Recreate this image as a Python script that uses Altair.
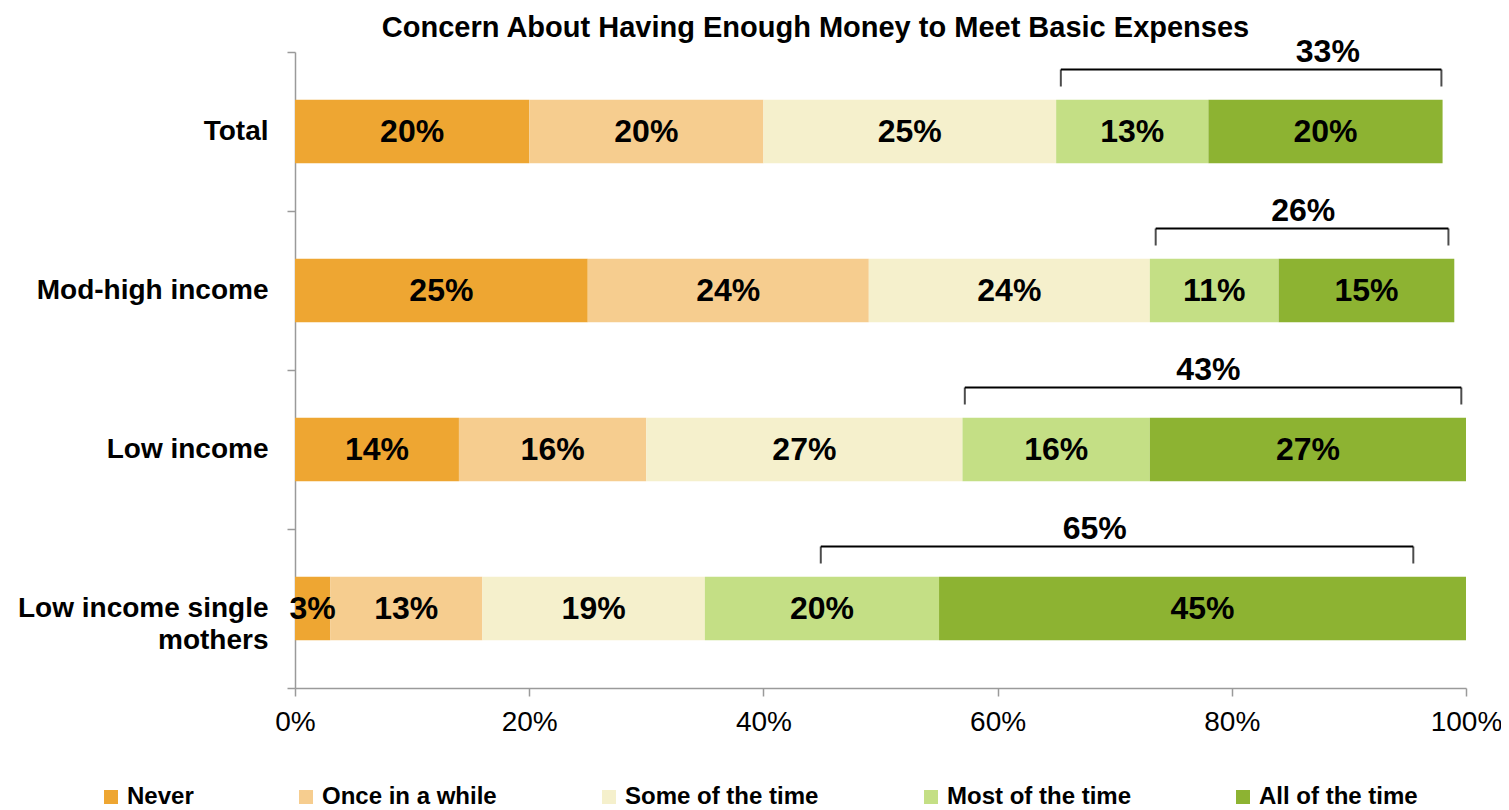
import altair as alt
import pandas as pd

categories = ["Total", "Mod-high income", "Low income", "Low income single mothers"]
responses = ["Never", "Once in a while", "Some of the time", "Most of the time", "All of the time"]
never = [20, 25, 14, 3]
once_in_a_while = [20, 24, 16, 13]
some_of_the_time = [25, 24, 27, 19]
most_of_the_time = [13, 11, 16, 20]
all_of_the_time = [20, 15, 27, 45]
colors = ["#EEA632", "#F6CD8F", "#F5F0CC", "#C4DF85", "#8DB332"]

bracket_start = [65.4, 73.5, 57.2, 44.9]
bracket_end = [97.9, 98.5, 99.6, 95.5]
bracket_text = ["33%", "26%", "43%", "65%"]
bracket_text_x = [88.2, 86.1, 78.0, 68.3]
x_ticks = [0, 20, 40, 60, 80, 100]

FONT = "Liberation Sans"

series = [never, once_in_a_while, some_of_the_time, most_of_the_time, all_of_the_time]
rows = []
for i, cat in enumerate(categories):
    cum = 0
    for j, resp in enumerate(responses):
        v = series[j][i]
        rows.append({"category": cat, "response": resp, "value": v,
                     "start": cum, "end": cum + v, "mid": cum + v / 2,
                     "label": f"{v}%"})
        cum += v
df = pd.DataFrame(rows)

br = pd.DataFrame({"category": categories, "start": bracket_start, "end": bracket_end,
                   "text": bracket_text, "tx": bracket_text_x})

xscale = alt.Scale(domain=[0, 100], nice=False, zero=True)
yenc = alt.Y("category:N", sort=categories,
             scale=alt.Scale(paddingInner=0, paddingOuter=0),
             axis=alt.Axis(title=None, tickBand="extent", tickSize=8, labelPadding=19,
                           labelFontSize=28, labelFontWeight="bold", labelColor="black",
                           labelFont=FONT, labelLineHeight=32, labelLimit=400,
                           labelExpr="datum.value == 'Low income single mothers' ? ['Low income single', 'mothers'] : datum.value"))

bars = alt.Chart(df).mark_bar(height={"band": 0.4}).encode(
    x=alt.X("start:Q", scale=xscale,
            axis=alt.Axis(title=None, values=x_ticks, labelExpr="datum.value + '%'",
                          tickSize=8, labelPadding=12, labelFontSize=28, labelColor="black",
                          labelFont=FONT, grid=False, labelFlush=False)),
    x2="end:Q",
    y=yenc,
    color=alt.Color("response:N", sort=responses,
                    scale=alt.Scale(domain=responses, range=colors),
                    legend=alt.Legend(title=None, orient="none", direction="horizontal",
                                      columns=5, legendX=-196, legendY=733, padding=0,
                                      symbolType="square", symbolSize=196,
                                      symbolStrokeWidth=0, symbolOpacity=1,
                                      labelFontSize=24, labelFontWeight="bold",
                                      labelColor="black", labelFont=FONT,
                                      labelOffset=4, columnPadding=100, labelLimit=400)),
)

labels = alt.Chart(df).mark_text(fontSize=32, fontWeight="bold", font=FONT, color="black").encode(
    x=alt.X("mid:Q", scale=xscale),
    y=alt.Y("category:N", sort=categories),
    text="label:N",
)

hline = alt.Chart(br).mark_rule(color="black", strokeWidth=2, yOffset=-62).encode(
    x=alt.X("start:Q", scale=xscale), x2="end:Q",
    y=alt.Y("category:N", sort=categories),
)
lend = alt.Chart(br).mark_tick(color="black", thickness=2, size=17, yOffset=-53.5).encode(
    x=alt.X("start:Q", scale=xscale), y=alt.Y("category:N", sort=categories),
)
rend = alt.Chart(br).mark_tick(color="black", thickness=2, size=17, yOffset=-53.5).encode(
    x=alt.X("end:Q", scale=xscale), y=alt.Y("category:N", sort=categories),
)
btext = alt.Chart(br).mark_text(fontSize=32, fontWeight="bold", font=FONT, color="black",
                                yOffset=-80).encode(
    x=alt.X("tx:Q", scale=xscale), y=alt.Y("category:N", sort=categories),
    text="text:N",
)

chart = alt.layer(bars, labels, hline, lend, rend, btext).properties(
    width=1171, height=636,
    autosize=alt.AutoSizeParams(type="none"),
    padding={"left": 287, "top": 44, "right": 35, "bottom": 120},
    title=alt.TitleParams(text="Concern About Having Enough Money to Meet Basic Expenses",
                          fontSize=29, font=FONT, fontWeight="bold", color="black",
                          anchor="middle", dx=-65, dy=7, offset=0),
).configure_view(stroke=None).configure_axis(
    domainColor="#9A9A9A", tickColor="#9A9A9A", domainWidth=1.5, tickWidth=1.5,
)

chart.save("out.html", embed_options={"renderer": "svg", "actions": False})
